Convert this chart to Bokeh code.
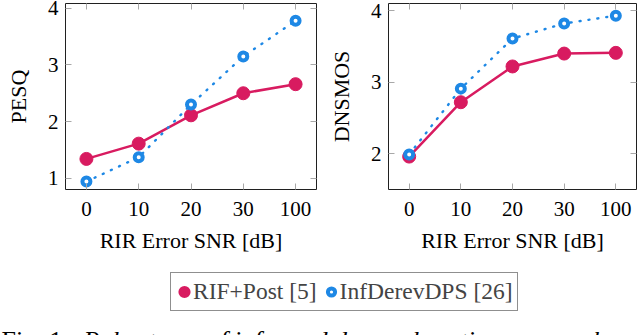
from bokeh.plotting import figure
from bokeh.models import Range1d, FixedTicker, LinearAxis, Legend, LegendItem, ColumnDataSource
from bokeh.layouts import column, row
from bokeh.embed import file_html
from bokeh.resources import INLINE
from bokeh.core.properties import value

# ---------------- data ----------------
snr_labels = ["0", "10", "20", "30", "100"]
pesq_rif = [1.34, 1.61, 2.11, 2.50, 2.66]
pesq_inf = [0.94, 1.37, 2.30, 3.15, 3.78]
dnsmos_rif = [1.96, 2.72, 3.22, 3.40, 3.41]
dnsmos_inf = [1.99, 2.91, 3.61, 3.82, 3.93]
pesq_ticks = [1, 2, 3, 4]
dnsmos_ticks = [2, 3, 4]
series_names = ["RIF+Post [5]", "InfDerevDPS [26]"]
x_label = "RIR Error SNR [dB]"
y_labels = ["PESQ", "DNSMOS"]
caption_prefix = "Fig. 1:"
caption_body = "Robustness of informed dereverberation approaches"

RED = "#D81B60"
BLUE = "#1E88E5"
FONT = "Liberation Serif"
TICK_GREY = "#a8a8a8"
TOP_H = 255
BOT_H = 80


def style_axis(ax, labels=True):
    ax.axis_line_color = None
    ax.major_tick_in = 6
    ax.major_tick_out = 0
    ax.minor_tick_line_color = None
    ax.major_tick_line_color = TICK_GREY
    ax.major_tick_line_width = 1
    ax.major_label_text_font = FONT
    ax.major_label_text_color = "black"
    ax.axis_label_text_font = FONT
    ax.axis_label_text_font_style = "normal"
    ax.axis_label_text_color = "black"
    ax.axis_label_text_font_size = "22px"
    if labels:
        ax.major_label_text_font_size = "21px"
    else:
        ax.major_label_text_font_size = "0px"
        ax.major_label_text_color = None
        ax.major_label_standoff = 0


def make_panel(ylabel, rif, inf, ticks, yrange, width, b_left, b_right):
    xs = list(range(len(snr_labels)))
    p = figure(width=width, height=TOP_H, output_backend="svg", toolbar_location=None,
               x_range=Range1d(-0.4, len(snr_labels) - 0.6), y_range=Range1d(*yrange),
               min_border_left=b_left, min_border_right=b_right,
               min_border_top=3, min_border_bottom=TOP_H - 195)
    p.outline_line_color = "#202020"
    p.outline_line_width = 1
    p.xgrid.visible = False
    p.ygrid.visible = False
    p.background_fill_color = "white"
    p.border_fill_color = "white"

    p.xaxis.ticker = FixedTicker(ticks=xs)
    p.xaxis.major_label_overrides = {i: s for i, s in enumerate(snr_labels)}
    p.yaxis.ticker = FixedTicker(ticks=ticks)
    p.xaxis.axis_label = x_label
    p.yaxis.axis_label = ylabel
    for ax in p.xaxis:
        style_axis(ax)
        ax.major_label_standoff = 12
        ax.axis_label_standoff = 9
    for ax in p.yaxis:
        style_axis(ax)
        ax.major_label_standoff = 7
        ax.axis_label_standoff = 14

    top = LinearAxis(ticker=FixedTicker(ticks=xs))
    style_axis(top, labels=False)
    p.add_layout(top, "above")
    right = LinearAxis(ticker=FixedTicker(ticks=ticks))
    style_axis(right, labels=False)
    p.add_layout(right, "right")

    src = ColumnDataSource(dict(x=xs, rif=rif, inf=inf))
    p.line("x", "rif", source=src, line_color=RED, line_width=2.5)
    p.scatter("x", "rif", source=src, size=13, fill_color=RED, line_color=RED, line_width=1)
    p.line("x", "inf", source=src, line_color=BLUE, line_width=2.4, line_dash="1 8", line_cap="round")
    p.scatter("x", "inf", source=src, size=8, fill_color="white", line_color=BLUE, line_width=4)
    return p


p1 = make_panel(y_labels[0], pesq_rif, pesq_inf, pesq_ticks, (0.8, 4.085), 320, 65, 4)
p2 = make_panel(y_labels[1], dnsmos_rif, dnsmos_inf, dnsmos_ticks, (1.5, 4.1), 320, 68, 4)

# ---------------- legend + caption ----------------
bot = figure(width=640, height=BOT_H, output_backend="svg", toolbar_location=None,
             x_range=Range1d(0, 640), y_range=Range1d(BOT_H, 0), min_border=0)
bot.axis.visible = False
bot.grid.visible = False
bot.outline_line_color = None
bot.background_fill_color = "white"
bot.border_fill_color = "white"

nan = float("nan")
# legend swatches (Bokeh draws legend markers at 0.4 x glyph box; line width enlarges them)
r1 = bot.scatter(x=[nan], y=[nan], size=7, fill_color=RED, line_color=RED, line_width=5)
r2 = bot.scatter(x=[nan], y=[nan], size=7, fill_color="white", line_color=BLUE, line_width=4)
legend = Legend(items=[LegendItem(label=series_names[0], renderers=[r1]),
                       LegendItem(label=series_names[1], renderers=[r2])],
                location=(170, 24), orientation="horizontal",
                label_text_font=FONT, label_text_font_size="23.5px",
                glyph_width=18, glyph_height=29, label_height=29,
                label_standoff=0, spacing=5, padding=4, margin=0,
                border_line_color="#202020", border_line_width=1,
                background_fill_color="white", background_fill_alpha=1)
bot.add_layout(legend)

bot.text(x=[1], y=[70], text=[caption_prefix], text_font=value(FONT), text_font_size="26px",
         text_baseline="top", text_color="black")
bot.text(x=[83], y=[70], text=[caption_body], text_font=value(FONT), text_font_size="26px",
         text_font_style="italic", text_baseline="top", text_color="black")

layout = column(row(p1, p2, spacing=0), bot, spacing=0)
open("out.html", "w").write(file_html(layout, INLINE))
